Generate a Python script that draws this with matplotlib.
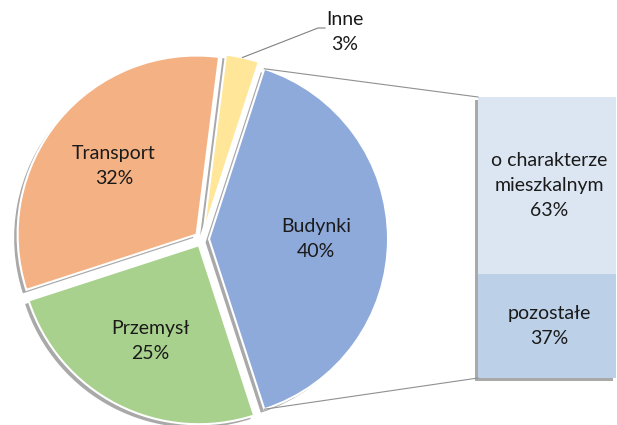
import numpy as np
import matplotlib.pyplot as plt
import matplotlib.patheffects as pe
from matplotlib.patches import Rectangle

plt.rcParams['font.family'] = ['Lato', 'DejaVu Sans']

# --- dane ---
pie_labels = ['Budynki', 'Inne', 'Transport', 'Przemysł']
pie_values = [40, 3, 32, 25]
pie_colors = ['#8eaadb', '#ffe699', '#f4b183', '#a9d18e']

bar_labels = ['pozostałe', 'o charakterze\nmieszkalnym']
bar_values = [37, 63]
bar_colors = ['#bcd0e8', '#dce6f2']

# --- układ (w pikselach) ---
W, H = 617, 425
cx, cy, R = 202, 186, 179
expl = 7
start = -pie_values[0] / 100 * 360 / 2   # Budynki wycentrowane na prawo
bar_left, bar_right = 478, 616
bar_bottom, bar_top = 47, 328

fig = plt.figure(figsize=(W / 100, H / 100), dpi=100)
ax = fig.add_axes([0, 0, 1, 1])

shadow = [pe.SimplePatchShadow(offset=(-2.5, -2.5), shadow_rgbFace='#404040', alpha=0.45),
          pe.Normal()]

wedges, _ = ax.pie(pie_values, colors=pie_colors, startangle=start, counterclock=True,
                   center=(cx, cy), radius=R, explode=[expl] * len(pie_values),
                   wedgeprops=dict(edgecolor='white', linewidth=1.5), frame=True)
for w in wedges:
    w.set_path_effects(shadow)

txt_kw = dict(ha='center', va='center', fontsize=14, color='#1a1a1a', linespacing=1.6)

for w, lab, val in zip(wedges, pie_labels, pie_values):
    mid = np.deg2rad((w.theta1 + w.theta2) / 2)
    wx, wy = w.center
    if lab == 'Inne':
        px, py = wx + R * np.cos(mid), wy + R * np.sin(mid)
        ax.plot([px, 318, 325], [py, 397, 397], color='#808080', lw=0.8)
        ax.text(345, 393, f'{lab}\n{val}%', **txt_kw)
    else:
        d = 0.6 * R
        ax.text(wx + d * np.cos(mid), wy + d * np.sin(mid), f'{lab}\n{val}%', **txt_kw)

# słupek z podziałem Budynki
back = Rectangle((bar_left, bar_bottom), bar_right - bar_left, bar_top - bar_bottom,
                 facecolor=bar_colors[1], edgecolor='none')
back.set_path_effects(shadow)
ax.add_patch(back)
scale = (bar_top - bar_bottom) / sum(bar_values)
bottom = bar_bottom
for lab, val, col in zip(bar_labels, bar_values, bar_colors):
    h = val * scale
    ax.bar((bar_left + bar_right) / 2, h, width=bar_right - bar_left, bottom=bottom,
           color=col, edgecolor='none')
    ax.text((bar_left + bar_right) / 2 + 2, bottom + h / 2, f'{lab}\n{val}%', **txt_kw)
    bottom += h

# linie łączące
bw = wedges[0]
bx, by = bw.center
for ang, ybar in [(bw.theta2, bar_top), (bw.theta1, bar_bottom)]:
    a = np.deg2rad(ang)
    ax.plot([bx + R * np.cos(a), bar_left], [by + R * np.sin(a), ybar], color='#909090', lw=0.8)

ax.set_xlim(0, W)
ax.set_ylim(0, H)
ax.set_aspect('equal')
ax.axis('off')

fig.savefig('out.png', dpi=100, facecolor='white')
